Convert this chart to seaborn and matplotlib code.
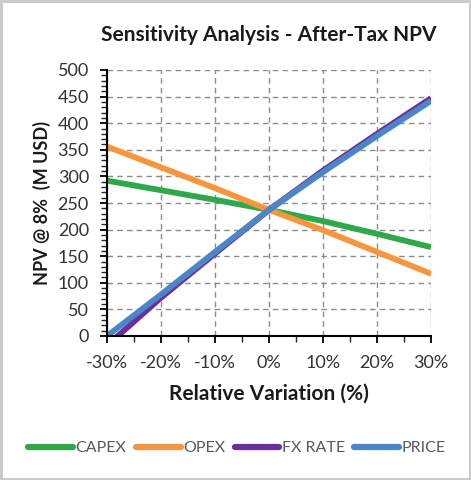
import matplotlib
matplotlib.use("Agg")
import matplotlib.pyplot as plt
import seaborn as sns
import pandas as pd
from matplotlib.ticker import MultipleLocator, FuncFormatter
from matplotlib.patches import Rectangle

variation = [-30, -20, -10, 0, 10, 20, 30]
capex = [292, 274, 256, 237, 216, 192, 167]
opex = [356, 317, 278, 237, 199, 158, 117]
fx_rate = [-18, 72, 155, 237, 311, 380, 447]
price = [0, 78, 158, 237, 308, 376, 442]

series_names = ["CAPEX", "OPEX", "FX RATE", "PRICE"]
colors = ["#2EA84A", "#F7963F", "#6B2F9A", "#4A86C8"]

df = pd.concat([
    pd.DataFrame({"Variation": variation, "NPV": vals, "Series": name})
    for name, vals in zip(series_names, [capex, opex, fx_rate, price])
])

sns.set_style("white")
plt.rcParams["font.family"] = ["Lato", "DejaVu Sans"]

fig = plt.figure(figsize=(4.71, 4.80), dpi=100)
ax = fig.add_axes([107/471, 1-336/480, (431-107)/471, (336-70)/480])

sns.lineplot(data=df, x="Variation", y="NPV", hue="Series", hue_order=series_names,
             palette=colors, linewidth=4.2, ax=ax, legend=False, solid_capstyle="butt")

ax.set_xlim(-30, 30)
ax.set_ylim(0, 500)
ax.xaxis.set_major_locator(MultipleLocator(10))
ax.xaxis.set_minor_locator(MultipleLocator(5))
ax.yaxis.set_major_locator(MultipleLocator(50))
ax.yaxis.set_minor_locator(MultipleLocator(10))
ax.xaxis.set_major_formatter(FuncFormatter(lambda v, p: f"{int(round(v))}%"))
ax.grid(True, which="major", linestyle=(0, (4, 3)), color="#8C8C8C", linewidth=1)
ax.set_axisbelow(True)
for s in ["top", "right"]:
    ax.spines[s].set_visible(False)
for s in ["left", "bottom"]:
    ax.spines[s].set_color("black")
    ax.spines[s].set_linewidth(1.5)
ax.tick_params(axis="both", which="major", direction="out", length=5, width=1.3,
               labelsize=13, colors="black", labelcolor="#333333", bottom=True, left=True)
ax.tick_params(axis="both", which="minor", direction="out", length=4, width=1.0,
               bottom=True, left=True)
ax.tick_params(axis="x", pad=9)
ax.tick_params(axis="y", pad=8)
ax.set_xlabel("Relative Variation (%)", fontsize=15, fontweight="bold", labelpad=9,
              color="#1a1a1a")
ax.set_ylabel("NPV @ 8%  (M USD)", fontsize=13, fontweight="bold", labelpad=5,
              color="#1a1a1a")

fig.text(269/471, 1-35/480, "Sensitivity Analysis - After-Tax NPV", ha="center", va="center",
         fontsize=15, fontweight="bold", color="#1a1a1a")

handles = [plt.Line2D([0], [0], color=c, linewidth=4.5, solid_capstyle="round") for c in colors]
fig.legend(handles, series_names, loc="center", bbox_to_anchor=(237/471, 1-448/480), ncol=4,
           frameon=False, fontsize=11.5, handlelength=2.8, handletextpad=0.15,
           columnspacing=0.6, labelcolor="#595959")

fig.patches.append(Rectangle((0.003, 0.003), 0.994, 0.994, transform=fig.transFigure,
                             fill=False, edgecolor="#C8C8C8", linewidth=2))

fig.savefig("out.png", dpi=100)
